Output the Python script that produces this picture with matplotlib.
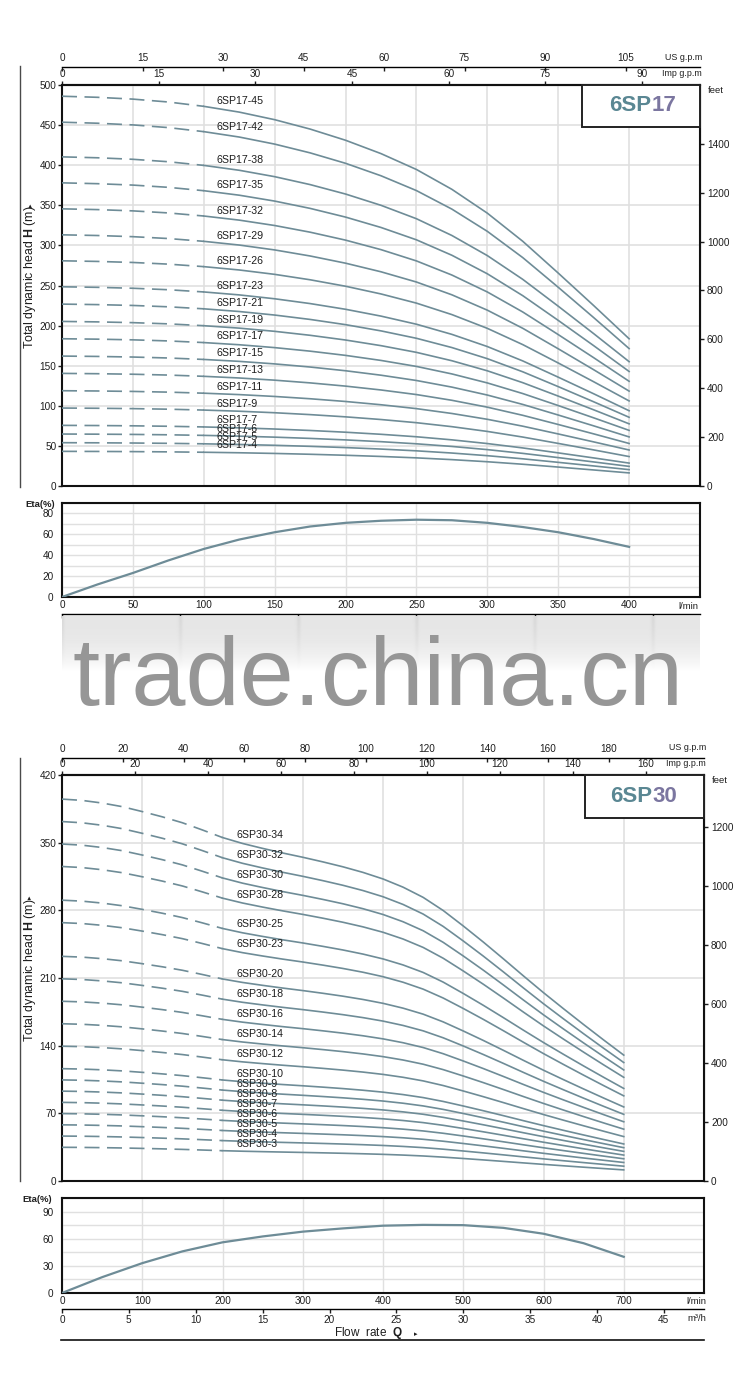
import numpy as np
import matplotlib
matplotlib.use("Agg")
import matplotlib.pyplot as plt
from matplotlib import font_manager
from matplotlib.lines import Line2D
from matplotlib.patches import Rectangle

# ---------------- Fuentes ----------------
_names = {f.name for f in font_manager.fontManager.ttflist}
NARROW = "Liberation Sans Narrow" if "Liberation Sans Narrow" in _names else "Liberation Sans"
K = 1.0 if NARROW == "Liberation Sans Narrow" else 0.85  # si no hay fuente estrecha, achicar

plt.rcParams["font.family"] = [NARROW, "DejaVu Sans"]
plt.rcParams["mathtext.fontset"] = "custom"
plt.rcParams["mathtext.rm"] = NARROW
plt.rcParams["mathtext.bf"] = NARROW + ":bold"

# ---------------- Datos 6SP17 ----------------
# altura por etapa (m), caudal en l/min
Q17 = [0, 25, 50, 75, 100, 125, 150, 175, 200, 225, 250, 275, 300, 325, 350, 375, 400]
H17_STAGE = [10.80, 10.77, 10.72, 10.64, 10.52, 10.36, 10.15, 9.89, 9.58, 9.21,
             8.77, 8.22, 7.56, 6.78, 5.90, 5.00, 4.08]
STAGES17 = [45, 42, 38, 35, 32, 29, 26, 23, 21, 19, 17, 15, 13, 11, 9, 7, 6, 5, 4]
ETA17_Q = [0, 25, 50, 75, 100, 125, 150, 175, 200, 225, 250, 275, 300, 325, 350, 375, 400]
ETA17 = [0, 12, 23, 35, 46, 55, 62, 67.5, 71, 73, 74, 73.5, 71, 67, 62, 55.5, 48]

# ---------------- Datos 6SP30 ----------------
Q30 = [0, 25, 50, 75, 100, 125, 150, 175, 200, 225, 250, 275, 300, 325, 350,
       375, 400, 425, 450, 475, 500, 525, 550, 575, 600, 625, 650, 675, 700]
H30_STAGE = [11.62, 11.58, 11.50, 11.39, 11.24, 11.08, 10.90, 10.68, 10.45, 10.27,
             10.12, 9.98, 9.85, 9.71, 9.56, 9.39, 9.19, 8.94, 8.63, 8.23,
             7.76, 7.27, 6.76, 6.24, 5.73, 5.24, 4.76, 4.29, 3.83]
STAGES30 = [34, 32, 30, 28, 25, 23, 20, 18, 16, 14, 12, 10, 9, 8, 7, 6, 5, 4, 3]
ETA30_Q = [0, 50, 100, 150, 200, 250, 300, 350, 400, 450, 500, 550, 600, 650, 700]
ETA30 = [0, 17.5, 33, 46, 56, 62.5, 67.8, 71.4, 74.4, 75.3, 75, 72, 65.5, 55, 40]

# ---------------- Estilo / unidades ----------------
LINE = "#6e8c97"
GRID = "#e0e0e0"
TXT = "#1e1e1e"
C_MODEL = "#5a8793"
C_NUM = "#7b76a0"

LPM_US = 3.785411784   # l/min por US g.p.m
LPM_IMP = 4.54609      # l/min por Imp g.p.m
LPM_M3H = 1000 / 60    # l/min por m3/h
FT_M = 3.28084

W, H = 750, 1400
fig = plt.figure(figsize=(W / 100, H / 100), dpi=100)


def px_axes(x0, y0, x1, y1):
    return fig.add_axes([x0 / W, 1 - y1 / H, (x1 - x0) / W, (y1 - y0) / H])


def px_text(x, y, s, **kw):
    return fig.text(x / W, 1 - y / H, s, **kw)


def px_line(x0, y0, x1, y1, **kw):
    fig.add_artist(Line2D([x0 / W, x1 / W], [1 - y0 / H, 1 - y1 / H], **kw))


def frame(ax, lw=1.5):
    for sp in ax.spines.values():
        sp.set_linewidth(lw)
        sp.set_color("#111111")


def curves(ax, q, h_stage, stages, name, dash_end, label_q):
    q = np.array(q, dtype=float)
    hs = np.array(h_stage, dtype=float)
    d = q <= dash_end
    s = q >= dash_end
    for n in stages:
        ax.plot(q[d], n * hs[d], color=LINE, lw=1.2, ls=(0, (9, 4.5)), zorder=3)
        ax.plot(q[s], n * hs[s], color=LINE, lw=1.2, zorder=3)
        yl = n * np.interp(label_q, q, hs)
        ax.annotate(f"{name}-{n}", xy=(label_q, yl), xytext=(0, 5),
                    textcoords="offset points", ha="left", va="center",
                    fontsize=9 * K, color=TXT, zorder=4)


def head_axes(ax, xmax, xstep, ymax, ystep, imp_ticks, us_ticks, us_loc, ft_ticks,
              num, split_x, title_y):
    ax.set_xlim(0, xmax)
    ax.set_ylim(0, ymax)
    ax.set_xticks(np.arange(0, xmax + 1, xstep))
    ax.set_yticks(np.arange(0, ymax + 1, ystep))
    ax.tick_params(axis="x", length=0, labelbottom=False)
    ax.tick_params(axis="y", length=3, width=1, pad=1, labelsize=8.5 * K, colors=TXT)
    ax.grid(True, color=GRID, lw=1.2)
    ax.set_axisbelow(True)
    frame(ax)

    imp = ax.secondary_xaxis("top", functions=(lambda x: x / LPM_IMP, lambda x: x * LPM_IMP))
    imp.set_xticks(imp_ticks)
    imp.tick_params(direction="out", length=3, width=1, pad=1.5, labelsize=8.5 * K, colors=TXT)
    imp.spines["top"].set_linewidth(1.5)

    us = ax.secondary_xaxis(us_loc, functions=(lambda x: x / LPM_US, lambda x: x * LPM_US))
    us.set_xticks(us_ticks)
    us.tick_params(direction="in", length=3, width=1, pad=3, labelsize=8.5 * K, colors=TXT)
    us.spines["top"].set_linewidth(1.0)

    ft = ax.secondary_yaxis("right", functions=(lambda m: m * FT_M, lambda f: f / FT_M))
    ft.set_yticks(ft_ticks)
    ft.tick_params(direction="out", length=3, width=1, pad=2, labelsize=8.5 * K, colors=TXT)

    ax.text(1.003, 1.068, "US g.p.m", transform=ax.transAxes,
            ha="right", va="center", fontsize=7.5 * K, color=TXT)
    ax.text(1.003, 1.029, "Imp g.p.m", transform=ax.transAxes,
            ha="right", va="center", fontsize=7.5 * K, color=TXT)
    ax.text(1.012, 0.998, "feet", transform=ax.transAxes,
            ha="left", va="top", fontsize=8 * K, color=TXT)

    # recuadro con el modelo
    ax.add_patch(Rectangle((0.815, 0.895), 0.185, 0.105, transform=ax.transAxes,
                           fc="white", ec="#222222", lw=1.4, zorder=6, clip_on=False))
    ax.text(split_x, title_y, "6SP", transform=ax.transAxes, ha="right", va="center",
            fontsize=16, fontweight="bold", color=C_MODEL, family="Liberation Sans", zorder=7)
    ax.text(split_x, title_y, num, transform=ax.transAxes, ha="left", va="center",
            fontsize=16, fontweight="bold", color=C_NUM, family="Liberation Sans", zorder=7)


def eta_axes(ax, q, eta, xmax, xstep, xlab_max, ymax, ymajor, yminor, m3h_ticks, m3h_loc,
             m3h_labels, eta_x):
    ax.plot(q, eta, color=LINE, lw=1.6, zorder=3)
    ax.set_xlim(0, xmax)
    ax.set_ylim(0, ymax)
    ax.set_xticks(np.arange(0, xlab_max + 1, xstep))
    ax.set_xticks(np.arange(xlab_max + xstep, xmax, xstep), minor=True)
    ax.set_yticks(ymajor)
    ax.set_yticks(yminor, minor=True)
    ax.tick_params(axis="x", which="both", length=0, pad=2, labelsize=8.5 * K, colors=TXT)
    ax.tick_params(axis="y", which="both", length=0, pad=6, labelsize=8.5 * K, colors=TXT)
    ax.grid(True, which="both", color=GRID, lw=1.0)
    ax.set_axisbelow(True)
    frame(ax)
    ax.text(eta_x, 0.98, "Eta(%)", transform=ax.transAxes, ha="left", va="center",
            fontsize=8 * K, fontweight="bold", color=TXT)

    m3 = ax.secondary_xaxis(m3h_loc, functions=(lambda x: x / LPM_M3H, lambda x: x * LPM_M3H))
    m3.set_xticks(m3h_ticks)
    m3.tick_params(direction="out", length=3, width=1, pad=1.5, labelsize=8.5 * K, colors=TXT,
                   labelbottom=m3h_labels)
    m3.spines["bottom"].set_linewidth(1.0)


# ================= Gráfica 6SP17 =================
ax17 = px_axes(62, 85, 700, 486)
curves(ax17, Q17, H17_STAGE, STAGES17, "6SP17", 100, 109)
head_axes(ax17, 450, 50, 500, 50,
          imp_ticks=np.arange(0, 91, 15), us_ticks=np.arange(0, 106, 15), us_loc=1.044,
          ft_ticks=np.arange(0, 1401, 200), num="17", split_x=0.924, title_y=0.950)

e17 = px_axes(62, 503, 700, 597)
eta_axes(e17, ETA17_Q, ETA17, 450, 50, 400, 90, [0, 20, 40, 60, 80], [10, 30, 50, 70, 90],
         np.arange(0, 26, 5), -0.181, False, -0.058)
e17.text(0.998, -0.105, "l/min", transform=e17.transAxes, ha="right", va="center",
         fontsize=8 * K, color=TXT)

px_text(29.5, 277, r"Total dynamic head $\mathbf{H}$ (m)", rotation=90, ha="center", va="center",
        fontsize=10.5 * K, color=TXT)
px_text(31, 205, "\u25b8", rotation=90, ha="center", va="center", fontsize=5,
        family="DejaVu Sans", color=TXT)
px_line(20, 66, 20, 487, color="#4a4a4a", lw=1.0)

# franja gris + marca de agua
band = px_axes(62, 616, 700, 672)
rows, cols = 56, 638
yy = np.linspace(0, 1, rows)[:, None]
xx = np.arange(cols)[None, :]
shade = 0.10 * (1 - yy ** 2.5) * np.ones((1, cols))
for t in np.arange(0, 26, 5):
    tx = t * LPM_M3H / 450 * 638
    shade = shade + 0.05 * np.exp(-((xx - tx) / 2.0) ** 2) * (1 - yy)
band.imshow(1 - shade, cmap="gray", vmin=0, vmax=1, aspect="auto", interpolation="bilinear")
band.axis("off")
px_text(378, 705, "trade.china.cn", ha="center", va="baseline", fontsize=70,
        color="#969696", family="Liberation Sans")

# ================= Gráfica 6SP30 =================
ax30 = px_axes(62, 775, 704, 1181)
curves(ax30, Q30, H30_STAGE, STAGES30, "6SP30", 200, 217)
head_axes(ax30, 800, 100, 420, 70,
          imp_ticks=np.arange(0, 161, 20), us_ticks=np.arange(0, 181, 20), us_loc=1.042,
          ft_ticks=np.arange(0, 1201, 200), num="30", split_x=0.920, title_y=0.946)

e30 = px_axes(62, 1198, 704, 1293)
eta_axes(e30, ETA30_Q, ETA30, 800, 100, 700, 105, [0, 30, 60, 90], [15, 45, 75, 105],
         np.arange(0, 46, 5), -0.168, True, -0.061)
e30.text(1.003, -0.085, "l/min", transform=e30.transAxes, ha="right", va="center",
         fontsize=8 * K, color=TXT)
e30.text(1.003, -0.265, "m\u00b3/h", transform=e30.transAxes, ha="right", va="center",
         fontsize=8 * K, color=TXT)

px_text(29.5, 970, r"Total dynamic head $\mathbf{H}$ (m)", rotation=90, ha="center", va="center",
        fontsize=10.5 * K, color=TXT)
px_text(30.5, 897, "\u25b8", rotation=90, ha="center", va="center", fontsize=5,
        family="DejaVu Sans", color=TXT)
px_line(20, 758, 20, 1181, color="#4a4a4a", lw=1.0)

px_text(368, 1333, r"Flow  rate  $\mathbf{Q}$", ha="center", va="center",
        fontsize=10 * K, color=TXT)
px_text(416, 1334, "\u25b8", ha="center", va="center", fontsize=5,
        family="DejaVu Sans", color=TXT)
px_line(61, 1340, 704, 1340, color="#111111", lw=1.2)

fig.savefig("out.png", dpi=100)
